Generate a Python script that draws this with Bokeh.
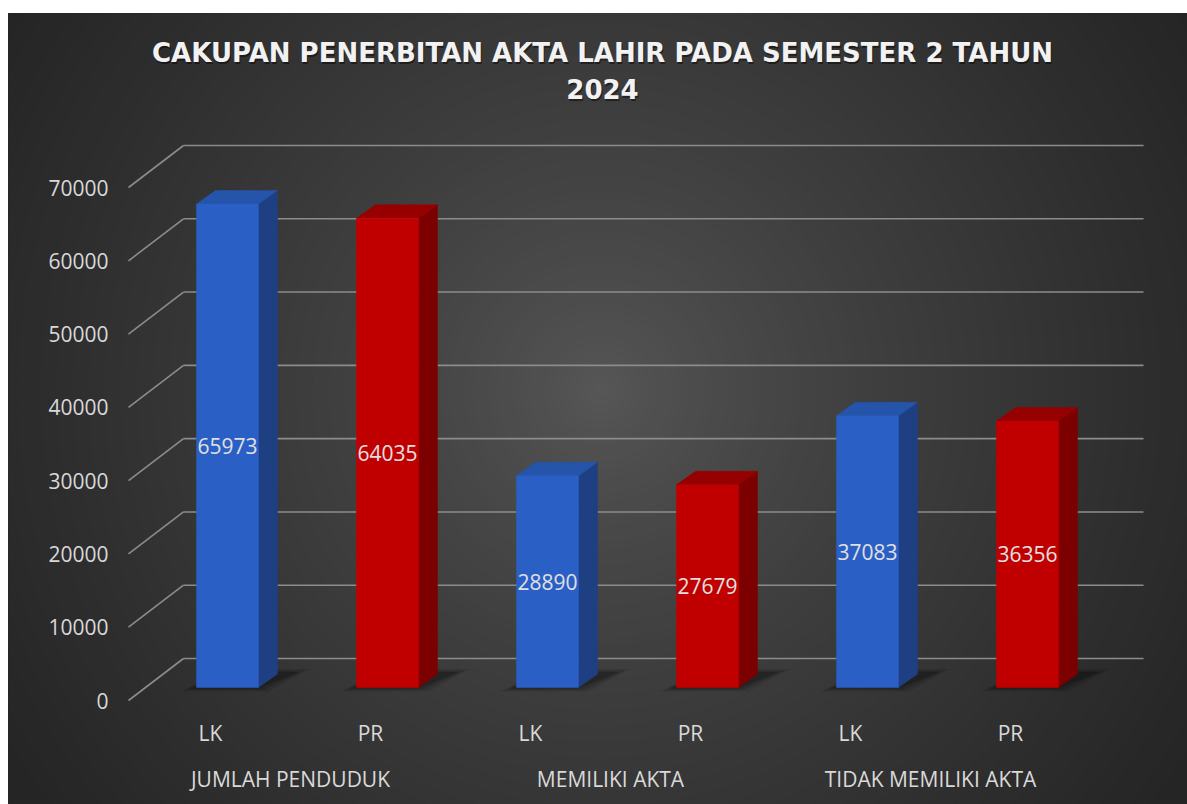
import numpy as np
from bokeh.plotting import figure
from bokeh.models import Range1d, ColumnDataSource
from bokeh.core.properties import value
from bokeh.embed import file_html
from bokeh.resources import INLINE

# ---------------- data ----------------
title_lines = ["CAKUPAN PENERBITAN AKTA LAHIR PADA SEMESTER 2 TAHUN", "2024"]
groups = ["JUMLAH PENDUDUK", "MEMILIKI AKTA", "TIDAK MEMILIKI AKTA"]
series_names = ["LK", "PR"]
lk_values = [65973, 28890, 37083]
pr_values = [64035, 27679, 36356]
y_ticks = [0, 10000, 20000, 30000, 40000, 50000, 60000, 70000]

# ---------------- geometry helpers (page pixels -> data) ----------------
PX_PER_UNIT = 513 / 70000.0   # vertical pixels per value unit
BASE_PY = 687                 # page y of value 0 on the bar front plane
SLOT0_PX = 227                # page x of first bar centre
SLOT_PX = 160                 # page px per bar slot


def X(px):
    return (px - SLOT0_PX) / SLOT_PX


def V(py):
    return (BASE_PY - py) / PX_PER_UNIT


def DX(px):
    return px / SLOT_PX


def DV(px):
    return px / PX_PER_UNIT


W, H = 1187, 804
LEFT_BORDER, TOP_BORDER = 8, 13

p = figure(width=W, height=H, output_backend="svg", toolbar_location=None,
           x_range=Range1d(X(LEFT_BORDER), X(W)),
           y_range=Range1d(V(H), V(TOP_BORDER)),
           min_border_left=LEFT_BORDER, min_border_right=0, min_border_bottom=0,
           min_border_top=TOP_BORDER, border_fill_color="white",
           background_fill_color="#262626", outline_line_color=None)
p.xaxis.visible = False
p.yaxis.visible = False
p.grid.visible = False

# ---------------- background radial gradient ----------------
radii = np.arange(760, 0, -8)
lum = 0x58 - (0x58 - 0x25) * np.clip(radii / 710.0, 0, 1) ** 0.76
bg_colors = ["#%02x%02x%02x" % (int(l), int(l), int(l)) for l in lum]
p.scatter(x=[X(600)] * len(radii), y=[V(390)] * len(radii), size=2 * radii,
          marker="circle", fill_color=bg_colors, line_color=None)

# ---------------- gridlines (back wall + floor diagonals) ----------------
back_dy = DV(29)
front_dy = DV(-13)
ticks = np.array(y_ticks, dtype=float)
p.segment(x0=[X(183)] * len(ticks), y0=ticks + back_dy,
          x1=[X(1143)] * len(ticks), y1=ticks + back_dy,
          line_color="#8c8c8c", line_width=1.6)
p.segment(x0=[X(128)] * len(ticks), y0=ticks + front_dy,
          x1=[X(183)] * len(ticks), y1=ticks + back_dy,
          line_color="#8c8c8c", line_width=1.6)

p.text(x=[X(108)] * len(ticks), y=ticks + front_dy, text=[str(t) for t in y_ticks],
       text_align="right", text_baseline="middle",
       text_font=value("Open Sans"), text_font_size="21px", text_color="#d9d9d9")

# ---------------- bars (3D columns) ----------------
xs = []
vals = []
front_cols = []
side_cols = []
top_cols = []
cats = []
blue = ("#2a5fc6", "#1e3f82", "#2455aa")
red = ("#c00000", "#7c0000", "#960000")
for g in range(len(groups)):
    for s, (vals_s, cols) in enumerate([(lk_values, blue), (pr_values, red)]):
        xs.append(2 * g + s)
        vals.append(vals_s[g])
        front_cols.append(cols[0])
        side_cols.append(cols[1])
        top_cols.append(cols[2])
        cats.append(series_names[s])
xs = np.array(xs, dtype=float)
vals = np.array(vals, dtype=float)

hw = DX(31)
dx = DX(19)
dv = DV(13.5)
left = xs - hw
right = xs + hw

# floor shadows
for k, (grow, a) in enumerate([(10, 0.10), (5, 0.14), (0, 0.18)]):
    sh_xs = [[l - DX(6 + grow), r + DX(grow), r + dx + DX(22 + grow), l + dx + DX(10)]
             for l, r in zip(left, right)]
    sh_ys = [[DV(-1 - grow * 0.3)] * 2 + [dv + DV(2 + grow * 0.3)] * 2 for _ in xs]
    p.patches(xs=sh_xs, ys=sh_ys, fill_color="black", fill_alpha=a, line_color=None)

side_src = ColumnDataSource(dict(
    xs=[[r, r + dx, r + dx, r] for r in right],
    ys=[[0, dv, v + dv, v] for v in vals],
    c=side_cols))
top_src = ColumnDataSource(dict(
    xs=[[l, l + dx, r + dx, r] for l, r in zip(left, right)],
    ys=[[v, v + dv, v + dv, v] for v in vals],
    c=top_cols))
p.patches(xs="xs", ys="ys", fill_color="c", line_color="c", line_width=0.5, source=side_src)
p.patches(xs="xs", ys="ys", fill_color="c", line_color="c", line_width=0.5, source=top_src)

front_src = ColumnDataSource(dict(left=left, right=right, top=vals,
                                  bottom=np.zeros_like(vals), c=front_cols,
                                  x=xs, mid=vals / 2, lab=[str(int(v)) for v in vals]))
p.quad(left="left", right="right", top="top", bottom="bottom", fill_color="c",
       line_color="c", line_width=0.5, source=front_src)

p.text(x="x", y="mid", text="lab", source=front_src, text_align="center",
       text_baseline="middle", text_font=value("Open Sans"), text_font_size="21px",
       text_color="#e0e0e0")

# ---------------- category labels ----------------
p.text(x=xs - DX(17), y=[V(732)] * len(xs), text=cats, text_align="center",
       text_baseline="middle", text_font=value("Open Sans"), text_font_size="21px",
       text_color="#d9d9d9")
gx = [(xs[2 * g] + xs[2 * g + 1]) / 2 - DX(17) for g in range(len(groups))]
p.text(x=gx, y=[V(778)] * len(groups), text=groups, text_align="center",
       text_baseline="middle", text_font=value("Open Sans"), text_font_size="21px",
       text_color="#d9d9d9")

# ---------------- title ----------------
ty = [V(52), V(88)]
tx = [X(602)] * 2
p.text(x=tx, y=ty, text=title_lines, text_align="center", text_baseline="middle",
       text_font=value("DejaVu Sans"), text_font_style="bold", text_font_size="26px",
       text_color="black", text_alpha=0.45, x_offset=1, y_offset=2)
p.text(x=tx, y=ty, text=title_lines, text_align="center", text_baseline="middle",
       text_font=value("DejaVu Sans"), text_font_style="bold", text_font_size="26px",
       text_color="#f2f2f2")

open("out.html", "w").write(file_html(p, INLINE))
